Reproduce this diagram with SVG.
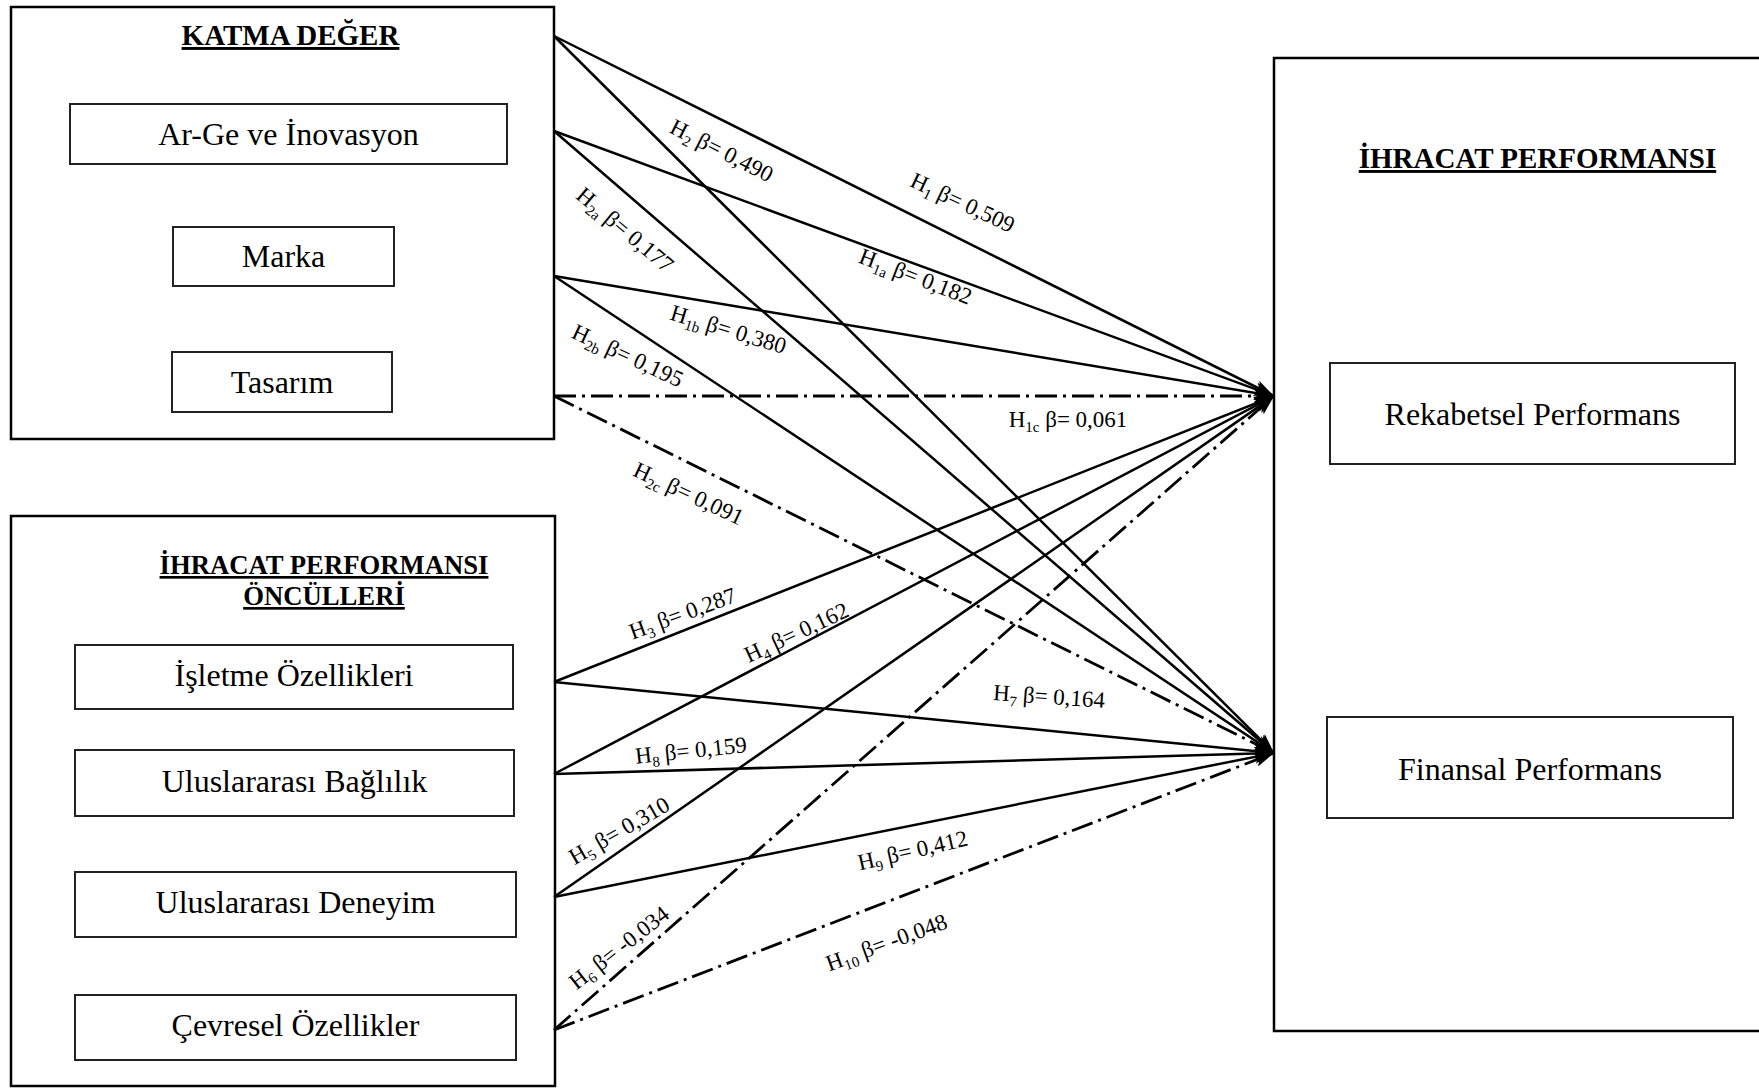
<svg xmlns="http://www.w3.org/2000/svg" width="1759" height="1088" viewBox="0 0 1759 1088">
  <style>
    text { font-family: "Liberation Serif", "Times New Roman", serif; fill: #000; }
    .frame { fill: none; stroke: #000; stroke-width: 2.5; }
    .item { fill: none; stroke: #222; stroke-width: 2; }
    .title { font-weight: bold; text-decoration: underline; text-anchor: middle; }
    .name { font-size: 32px; text-anchor: middle; }
    .lbl text { font-size: 23px; text-anchor: middle; }
    .sub { font-size: 15px; }
    .link { fill: none; stroke: #000; stroke-width: 2.5; marker-end: url(#arrow); }
    .weak { stroke-width: 2.8; stroke-dasharray: 22 6 3 6; }
  </style>
  <defs>
    <marker id="arrow" markerUnits="userSpaceOnUse" markerWidth="20" markerHeight="14" refX="20" refY="7" orient="auto">
      <path d="M0,0 L20,7 L0,14 L5,7 z" fill="#000"/>
    </marker>
  </defs>

  <rect width="1759" height="1088" fill="#fff"/>

  <!-- value-added group -->
  <g id="katma-deger">
    <rect class="frame" x="11" y="7" width="543" height="432"/>
    <text class="title" x="290.5" y="45" font-size="29">KATMA DEĞER</text>
  </g>
  <g id="arge">
    <rect class="item" x="70" y="104" width="437" height="60"/>
    <text class="name" x="288.5" y="145">Ar-Ge ve İnovasyon</text>
  </g>
  <g id="marka">
    <rect class="item" x="173" y="227" width="221" height="59"/>
    <text class="name" x="283.5" y="267">Marka</text>
  </g>
  <g id="tasarim">
    <rect class="item" x="172" y="352" width="220" height="60"/>
    <text class="name" x="282" y="393">Tasarım</text>
  </g>

  <!-- antecedents group -->
  <g id="oncul">
    <rect class="frame" x="11" y="516" width="544" height="570"/>
    <text class="title" x="324" y="574" font-size="26.7">İHRACAT PERFORMANSI</text>
    <text class="title" x="324" y="605" font-size="26.7">ÖNCÜLLERİ</text>
  </g>
  <g id="isletme">
    <rect class="item" x="75" y="645" width="438" height="64"/>
    <text class="name" x="294" y="686">İşletme Özellikleri</text>
  </g>
  <g id="baglilik">
    <rect class="item" x="75" y="750" width="439" height="66"/>
    <text class="name" x="294.5" y="792">Uluslararası Bağlılık</text>
  </g>
  <g id="deneyim">
    <rect class="item" x="75" y="872" width="441" height="65"/>
    <text class="name" x="295.5" y="913">Uluslararası Deneyim</text>
  </g>
  <g id="cevresel">
    <rect class="item" x="75" y="995" width="441" height="65"/>
    <text class="name" x="295.5" y="1036">Çevresel Özellikler</text>
  </g>

  <!-- export performance group -->
  <g id="ihracat">
    <rect class="frame" x="1274" y="58" width="500" height="973"/>
    <text class="title" x="1537.5" y="168" font-size="29">İHRACAT PERFORMANSI</text>
  </g>
  <g id="rekabetsel">
    <rect class="item" x="1330" y="363" width="405" height="101"/>
    <text class="name" x="1532.5" y="425">Rekabetsel Performans</text>
  </g>
  <g id="finansal">
    <rect class="item" x="1327" y="717" width="406" height="101"/>
    <text class="name" x="1530" y="780">Finansal Performans</text>
  </g>

  <!-- paths -->
  <g id="connectors">
    <path class="link" d="M554,36 L1274,396"/>
    <path class="link" d="M554,36 L1274,753"/>
    <path class="link" d="M554,131 L1274,396"/>
    <path class="link" d="M554,131 L1274,753"/>
    <path class="link" d="M554,276 L1274,396"/>
    <path class="link" d="M554,276 L1274,753"/>
    <path class="link weak" d="M554,396 L1274,396"/>
    <path class="link weak" d="M554,396 L1274,753"/>
    <path class="link" d="M554,682 L1274,396"/>
    <path class="link" d="M554,682 L1274,753"/>
    <path class="link" d="M554,774 L1274,396"/>
    <path class="link" d="M554,774 L1274,753"/>
    <path class="link" d="M554,897 L1274,396"/>
    <path class="link" d="M554,897 L1274,753"/>
    <path class="link weak" d="M554,1030 L1274,396"/>
    <path class="link weak" d="M554,1030 L1274,753"/>

    <!-- path coefficients -->
    <g class="lbl" transform="translate(721,152) rotate(27)"><text y="6">H<tspan class="sub" dy="5">2</tspan><tspan dy="-5"> β= 0,490</tspan></text></g>
    <g class="lbl" transform="translate(962,204) rotate(25)"><text y="6">H<tspan class="sub" dy="5">1</tspan><tspan dy="-5"> β= 0,509</tspan></text></g>
    <g class="lbl" transform="translate(624,231) rotate(40)"><text y="6">H<tspan class="sub" dy="5">2a</tspan><tspan dy="-5"> β= 0,177</tspan></text></g>
    <g class="lbl" transform="translate(915,278) rotate(21)"><text y="6">H<tspan class="sub" dy="5">1a</tspan><tspan dy="-5"> β= 0,182</tspan></text></g>
    <g class="lbl" transform="translate(728,331) rotate(17)"><text y="6">H<tspan class="sub" dy="5">1b</tspan><tspan dy="-5"> β= 0,380</tspan></text></g>
    <g class="lbl" transform="translate(627,357) rotate(25)"><text y="6">H<tspan class="sub" dy="5">2b</tspan><tspan dy="-5"> β= 0,195</tspan></text></g>
    <g class="lbl" transform="translate(1068,421)"><text y="6">H<tspan class="sub" dy="5">1c</tspan><tspan dy="-5"> β= 0,061</tspan></text></g>
    <g class="lbl" transform="translate(688,495) rotate(25)"><text y="6">H<tspan class="sub" dy="5">2c</tspan><tspan dy="-5"> β= 0,091</tspan></text></g>
    <g class="lbl" transform="translate(683,615) rotate(-20)"><text y="6">H<tspan class="sub" dy="5">3</tspan><tspan dy="-5"> β= 0,287</tspan></text></g>
    <g class="lbl" transform="translate(797,634) rotate(-25)"><text y="6">H<tspan class="sub" dy="5">4</tspan><tspan dy="-5"> β= 0,162</tspan></text></g>
    <g class="lbl" transform="translate(1049,698) rotate(4)"><text y="6">H<tspan class="sub" dy="5">7</tspan><tspan dy="-5"> β= 0,164</tspan></text></g>
    <g class="lbl" transform="translate(691,752) rotate(-6)"><text y="6">H<tspan class="sub" dy="5">8</tspan><tspan dy="-5"> β= 0,159</tspan></text></g>
    <g class="lbl" transform="translate(620,832) rotate(-30)"><text y="6">H<tspan class="sub" dy="5">5</tspan><tspan dy="-5"> β= 0,310</tspan></text></g>
    <g class="lbl" transform="translate(913,852) rotate(-13)"><text y="6">H<tspan class="sub" dy="5">9</tspan><tspan dy="-5"> β= 0,412</tspan></text></g>
    <g class="lbl" transform="translate(620,949) rotate(-38)"><text y="6">H<tspan class="sub" dy="5">6</tspan><tspan dy="-5"> β= -0,034</tspan></text></g>
    <g class="lbl" transform="translate(887,944) rotate(-20)"><text y="6">H<tspan class="sub" dy="5">10</tspan><tspan dy="-5"> β= -0,048</tspan></text></g>
  </g>
</svg>
